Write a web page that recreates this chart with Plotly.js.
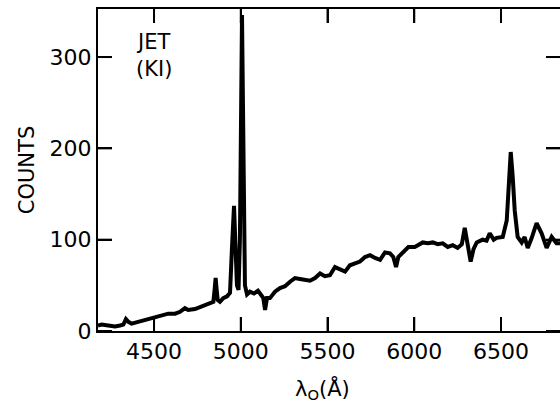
<!DOCTYPE html>
<html>
<head>
<meta charset="utf-8">
<script src="https://cdn.plot.ly/plotly-3.0.1.min.js"></script>
<style>html,body{margin:0;padding:0;overflow:hidden;background:#fff;}</style>
</head>
<body>
<div id="chart" style="width:560px;height:407px;"></div>
<script>
// Wavelength (Angstrom) and counts
const wavelength = [4177,4198,4236,4275,4304,4323,4338,4352,4371,4409,4448,4486,4506,4544,4582,4621,4650,4678,4697,4736,4775,4813,4832,4842,4849,4855,4861,4867,4880,4899,4921,4938,4949,4961,4970,4978,4987,4995,5007,5015,5024,5036,5053,5076,5099,5111,5130,5140,5151,5168,5197,5226,5255,5284,5312,5341,5370,5399,5428,5457,5485,5514,5543,5572,5601,5629,5658,5687,5716,5745,5774,5803,5831,5860,5879,5895,5908,5937,5966,6003,6049,6078,6107,6135,6164,6193,6222,6250,6274,6291,6308,6325,6342,6360,6394,6417,6435,6458,6475,6510,6533,6544,6556,6567,6579,6596,6619,6636,6654,6677,6705,6734,6763,6792,6820,6840];
const counts = [6,7,6,5,6,7,13,10,8,10,12,14,15,16,19,19,21,25,23,24,27,30,31,32,45,58,45,34,32,36,38,42,90,137,90,50,45,100,346,150,50,40,43,41,44,41,36,23,36,36,43,47,49,54,58,57,56,55,58,63,60,61,70,68,65,72,74,76,81,83,80,78,86,85,81,70,81,87,92,92,97,96,97,95,96,92,94,91,95,113,97,76,90,97,100,99,107,100,102,103,121,150,196,170,132,103,97,103,91,102,118,107,91,103,96,96];
const xTicks = [4500,5000,5500,6000,6500];
const yTicks = [0,100,200,300];
const yTitle = 'COUNTS';
const xTitle = 'λ<sub>O</sub>(Å)';
const label = 'JET<br>(KI)';

const FONT = 'DejaVu Sans, sans-serif';
const W = 560, H = 407, M = {l: 98, r: 0, t: 9, b: 76};
const XR = [4177, 6840], YR = [0, 352.6];
const TL = 14; // inward tick length in px
const dx = TL * (XR[1] - XR[0]) / (W - M.l - M.r);
const dy = TL * (YR[1] - YR[0]) / (H - M.t - M.b);

// inward tick marks on all four sides, as a line series on the same axes
const tx = [], ty = [];
xTicks.forEach(v => {
  tx.push(v, v, null, v, v, null);
  ty.push(YR[0], YR[0] + dy, null, YR[1], YR[1] - dy, null);
});
yTicks.forEach(v => {
  tx.push(XR[0], XR[0] + dx, null, XR[1], XR[1] - dx, null);
  ty.push(v, v, null, v, v, null);
});

Plotly.newPlot('chart', [{
  x: wavelength, y: counts, type: 'scatter', mode: 'lines',
  line: {color: '#000000', width: 4}
}, {
  x: tx, y: ty, type: 'scatter', mode: 'lines',
  line: {color: '#000000', width: 2}
}], {
  width: W, height: H,
  margin: M,
  showlegend: false,
  xaxis: {
    range: XR, tick0: xTicks[0], dtick: xTicks[1] - xTicks[0],
    ticks: 'inside', ticklen: TL, tickwidth: 2, tickcolor: '#000000',
    showline: true, linecolor: '#000000', linewidth: 2, mirror: 'ticks',
    showgrid: false, zeroline: false,
    tickfont: {size: 22, family: FONT, color: '#000000'}
  },
  yaxis: {
    range: YR, tick0: yTicks[0], dtick: yTicks[1] - yTicks[0],
    ticks: 'inside', ticklen: TL, tickwidth: 2, tickcolor: '#000000',
    showline: true, linecolor: '#000000', linewidth: 2, mirror: 'ticks',
    showgrid: false, zeroline: false,
    tickfont: {size: 22, family: FONT, color: '#000000'},
    title: {text: yTitle, font: {size: 21, family: FONT, color: '#000000'}, standoff: 9}
  },
  annotations: [{
    xref: 'paper', yref: 'paper', x: 0.121, y: 0.857, xanchor: 'center', yanchor: 'middle',
    text: label, showarrow: false, align: 'center', font: {size: 21, family: FONT, color: '#000000'}
  }, {
    xref: 'paper', yref: 'paper', x: 0.485, y: -0.18, xanchor: 'center', yanchor: 'middle',
    text: xTitle, showarrow: false, font: {size: 21, family: FONT, color: '#000000'}
  }]
}, {displayModeBar: false});
</script>
</body>
</html>
